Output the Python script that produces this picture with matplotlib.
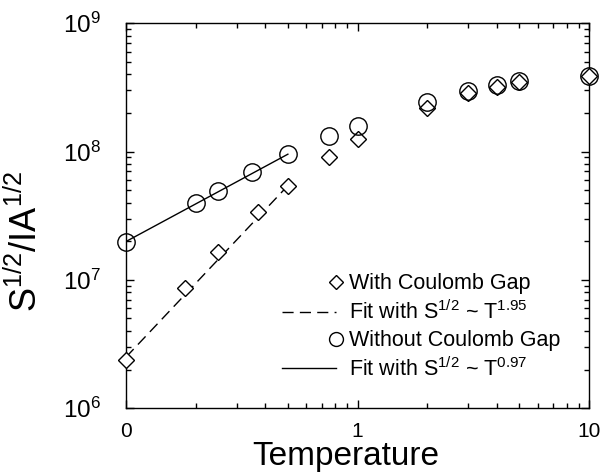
import numpy as np
import matplotlib
matplotlib.use("Agg")
import matplotlib.pyplot as plt
from matplotlib.legend_handler import HandlerLine2D

# --- data ---
T_gap = [0.1, 0.18, 0.25, 0.37, 0.5, 0.75, 1, 2, 3, 4, 5, 10]
S_gap = [2.38e6, 8.6e6, 1.66e7, 3.40e7, 5.42e7, 9.12e7, 1.25e8, 2.17e8, 2.85e8, 3.17e8, 3.47e8, 3.88e8]
T_nogap = [0.1, 0.2, 0.25, 0.35, 0.5, 0.75, 1, 2, 3, 4, 5, 10]
S_nogap = [1.99e7, 4.0e7, 4.93e7, 6.9e7, 9.53e7, 1.31e8, 1.58e8, 2.42e8, 2.98e8, 3.27e8, 3.55e8, 3.88e8]

fit_T = [0.1, 0.5]
fit_gap = [2.5e6, 5.42e7]
fit_nogap = [1.99e7, 9.53e7]

xticks = [0.1, 1, 10]
xticklabels = ["0", "1", "10"]
yticks = [1e6, 1e7, 1e8, 1e9]
yticklabels = [r"$\mathdefault{10^{6}}$", r"$\mathdefault{10^{7}}$",
               r"$\mathdefault{10^{8}}$", r"$\mathdefault{10^{9}}$"]

plt.rcParams["font.family"] = ["Liberation Sans", "DejaVu Sans"]
plt.rcParams["mathtext.fontset"] = "custom"
plt.rcParams["mathtext.rm"] = "Liberation Sans"
plt.rcParams["mathtext.it"] = "Liberation Sans:italic"
plt.rcParams["mathtext.bf"] = "Liberation Sans:bold"


# marker sits at the right end of the legend handle, like the original
class EndMarker(HandlerLine2D):
    def get_xdata(self, legend, xdescent, ydescent, width, height, fontsize):
        x = -xdescent + width
        return np.array([x, x]), np.array([x])


fig = plt.figure(figsize=(6.03, 4.73), dpi=100)
ax = fig.add_axes([0.209, 0.137, 0.768, 0.814])

h_gap, = ax.plot(T_gap, S_gap, ls="none", marker="D", ms=8.3, mfc="white",
                 mec="black", mew=1.0, label="With Coulomb Gap", zorder=3,
                 clip_on=False)
h_fit1, = ax.plot(fit_T, fit_gap, color="black", lw=1.0, dashes=(8, 4.5),
                  label=r"Fit with S$^{1/2}$ ~ T$^{1.95}$", zorder=2)
h_nogap, = ax.plot(T_nogap, S_nogap, ls="none", marker="o", ms=12.5, mfc="none",
                   mec="black", mew=1.0, label="Without Coulomb Gap", zorder=3,
                   clip_on=False)
h_fit2, = ax.plot(fit_T, fit_nogap, color="black", lw=1.0,
                  label=r"Fit with S$^{1/2}$ ~ T$^{0.97}$", zorder=2)

ax.set_xscale("log")
ax.set_yscale("log")
ax.set_xlim(0.1, 10)
ax.set_ylim(1e6, 1e9)

ax.set_xticks(xticks)
ax.set_xticklabels(xticklabels)
ax.set_yticks(yticks)
ax.set_yticklabels(yticklabels)

ax.tick_params(which="both", direction="in", top=True, right=True, width=1.0)
ax.tick_params(which="major", length=6)
ax.tick_params(which="minor", length=3.5)
ax.tick_params(axis="x", which="major", labelsize=15, pad=10)
ax.tick_params(axis="y", which="major", labelsize=17.5, pad=18)
for s in ax.spines.values():
    s.set_linewidth(1.0)

ax.set_xlabel("Temperature", fontsize=24)
ax.xaxis.set_label_coords(0.475, -0.084)
ax.set_ylabel(r"S$^{1/2}$/IA$^{1/2}$", fontsize=26)
ax.yaxis.set_label_coords(-0.175, 0.433)

leg = ax.legend(handles=[h_gap, h_fit1, h_nogap, h_fit2],
                handler_map={h_gap: EndMarker(), h_nogap: EndMarker()},
                loc="upper left", bbox_to_anchor=(0.337, 0.35), frameon=False,
                fontsize=15.5, borderpad=0, borderaxespad=0, handlelength=2.5,
                handletextpad=0.6, labelspacing=0.28, markerscale=0.8, numpoints=1)

fig.savefig("out.png", dpi=100)
